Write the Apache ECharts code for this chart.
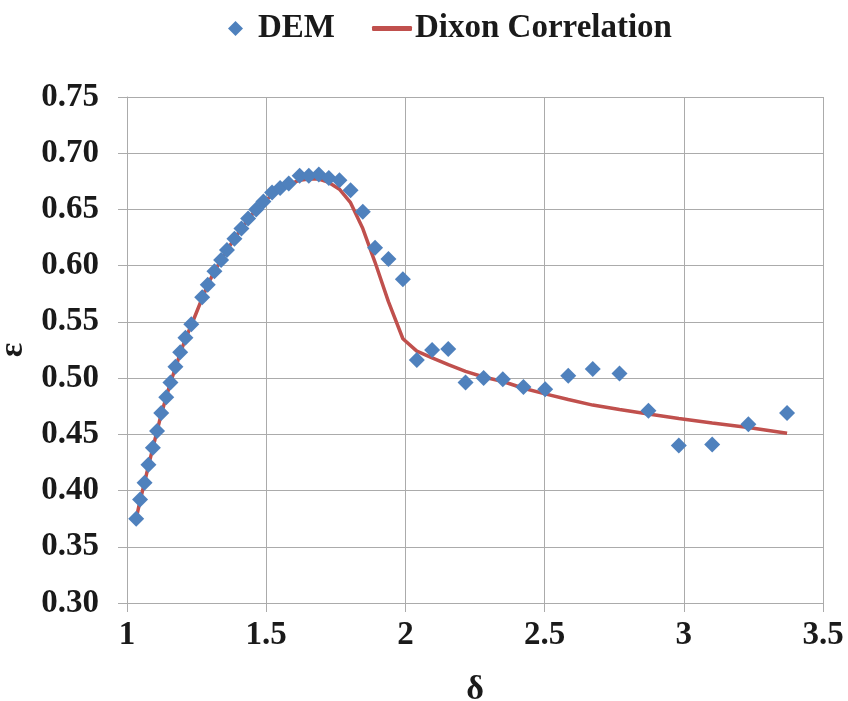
<!DOCTYPE html>
<html>
<head>
<meta charset="utf-8">
<script src="https://cdn.jsdelivr.net/npm/echarts@6/dist/echarts.min.js"></script>
<style>
  html, body { margin: 0; padding: 0; background: #fff; }
  #chart { width: 848px; height: 701px; }
</style>
</head>
<body>
<div id="chart"></div>
<script>
// DEM simulation results: δ (x) and ε (y)
const demDelta = [1.033, 1.047, 1.063, 1.077, 1.093, 1.108, 1.123, 1.141, 1.156, 1.174,
  1.191, 1.210, 1.231, 1.270, 1.290, 1.314, 1.338, 1.359, 1.386, 1.411,
  1.435, 1.464, 1.490, 1.521, 1.550, 1.581, 1.620, 1.653, 1.689, 1.725,
  1.763, 1.803, 1.847, 1.891, 1.939, 1.991, 2.041, 2.096, 2.154, 2.216,
  2.281, 2.350, 2.424, 2.502, 2.585, 2.673, 2.769, 2.873, 2.982, 3.102,
  3.232, 3.371];
const demEps = [0.375, 0.392, 0.407, 0.423, 0.438, 0.453, 0.469, 0.483, 0.496, 0.510,
  0.523, 0.536, 0.548, 0.572, 0.583, 0.595, 0.605, 0.614, 0.624, 0.633,
  0.642, 0.650, 0.657, 0.665, 0.669, 0.673, 0.680, 0.680, 0.681, 0.678,
  0.676, 0.667, 0.648, 0.616, 0.606, 0.588, 0.516, 0.525, 0.526, 0.496,
  0.500, 0.499, 0.492, 0.490, 0.502, 0.508, 0.504, 0.471, 0.440, 0.441,
  0.459, 0.469];

// Dixon correlation evaluated at the same δ values
const dixonEps = [0.375, 0.391, 0.407, 0.422, 0.438, 0.453, 0.468, 0.483, 0.496, 0.509,
  0.522, 0.535, 0.547, 0.571, 0.583, 0.595, 0.605, 0.614, 0.624, 0.633,
  0.641, 0.650, 0.656, 0.663, 0.668, 0.672, 0.676, 0.677, 0.677, 0.674,
  0.668, 0.656, 0.633, 0.603, 0.568, 0.535, 0.524, 0.518, 0.512, 0.506,
  0.501, 0.497, 0.491, 0.486, 0.481, 0.476, 0.472, 0.468, 0.464, 0.460,
  0.456, 0.451];

const xTicks = { min: 1, max: 3.5, step: 0.5 };
const yTicks = { min: 0.30, max: 0.75, step: 0.05 };

const FONT = '"Liberation Serif", "Times New Roman", serif';
const txt = { fontFamily: FONT, fontWeight: 'bold', fontSize: 33, color: '#1a1a1a' };
const gridColor = '#ababab';

const chart = echarts.init(document.getElementById('chart'), null, { renderer: 'canvas' });

chart.setOption({
  animation: false,
  backgroundColor: '#ffffff',
  legend: [
    {
      left: 228, top: 12, padding: 0,
      data: [{ name: 'DEM', icon: 'diamond' }],
      itemWidth: 15, itemHeight: 15,
      textStyle: Object.assign({}, txt, { padding: [0, 0, 0, 10] })
    },
    {
      left: 372, top: 12, padding: 0,
      data: [{ name: 'Dixon Correlation', icon: 'roundRect' }],
      itemWidth: 40, itemHeight: 5,
      itemStyle: { color: '#C0504D' },
      textStyle: Object.assign({}, txt, { padding: [0, 0, 0, -2] })
    }
  ],
  grid: { left: 127, right: 25, top: 97, bottom: 98, containLabel: false, outerBoundsMode: 'none' },
  xAxis: {
    type: 'value',
    min: xTicks.min, max: xTicks.max, interval: xTicks.step,
    name: 'δ', nameLocation: 'middle', nameGap: 70,
    nameTextStyle: Object.assign({}, txt, { fontSize: 34 }),
    axisLine: { show: true, lineStyle: { color: gridColor, width: 1 } },
    axisTick: { show: true, length: 9, lineStyle: { color: gridColor } },
    axisLabel: Object.assign({}, txt, { margin: 16, formatter: v => String(v) }),
    splitLine: { show: true, lineStyle: { color: gridColor, width: 1 } }
  },
  yAxis: {
    type: 'value',
    min: yTicks.min, max: yTicks.max, interval: yTicks.step,
    name: 'ε', nameLocation: 'middle', nameGap: 84, nameRotate: 90,
    nameTextStyle: Object.assign({}, txt, { fontSize: 34 }),
    axisLine: { show: true, lineStyle: { color: gridColor, width: 1 } },
    axisTick: { show: true, length: 9, lineStyle: { color: gridColor } },
    axisLabel: Object.assign({}, txt, { margin: 28, formatter: v => v.toFixed(2) }),
    splitLine: { show: true, lineStyle: { color: gridColor, width: 1 } }
  },
  series: [
    {
      name: 'Dixon Correlation',
      type: 'line',
      data: demDelta.map((d, i) => [d, dixonEps[i]]),
      showSymbol: false,
      symbol: 'none',
      lineStyle: { color: '#C0504D', width: 3.5 },
      itemStyle: { color: '#C0504D' },
      z: 2
    },
    {
      name: 'DEM',
      type: 'scatter',
      data: demDelta.map((d, i) => [d, demEps[i]]),
      symbol: 'diamond',
      symbolSize: [16, 16],
      itemStyle: { color: '#4F81BD', opacity: 1 },
      z: 3
    }
  ]
});
</script>
</body>
</html>
